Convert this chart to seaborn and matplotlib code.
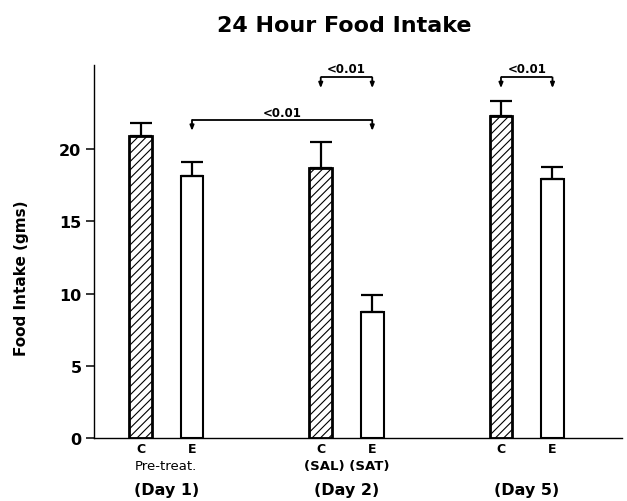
import numpy as np
import pandas as pd
import matplotlib
matplotlib.use("Agg")
import matplotlib.pyplot as plt
import seaborn as sns

# --- data -------------------------------------------------------------
days = ["(Day 1)", "(Day 2)", "(Day 5)"]
day_notes = ["Pre-treat.", "(SAL) (SAT)", ""]
groups = ["C", "E", "C", "E", "C", "E"]
intake = [20.9, 18.1, 18.7, 8.7, 22.3, 17.9]      # mean 24 h food intake (g)
sem = [0.9, 1.0, 1.75, 1.2, 1.0, 0.85]             # upper error bars
y_ticks = [0, 5, 10, 15, 20]
# significance comparisons: (bar i, bar j, label)
comparisons = [(1, 3, "<0.01"), (2, 3, "<0.01"), (4, 5, "<0.01")]

# --- layout -----------------------------------------------------------
x_pos = [0, 1, 3.5, 4.5, 7, 8]
bracket_y = [22.0, 24.95, 24.95]
bracket_drop = 0.75
label_y = [22.3, 25.3, 25.3]

sns.set_theme(style="ticks", rc={
    "axes.edgecolor": "black", "xtick.color": "black", "ytick.color": "black",
    "text.color": "black", "axes.labelcolor": "black",
})
plt.rcParams["font.family"] = ["DejaVu Sans"]
plt.rcParams["hatch.linewidth"] = 0.8
plt.rcParams["hatch.color"] = "black"

fig = plt.figure(figsize=(6.27, 5.02), dpi=100)
ax = fig.add_axes([94 / 627, 62.7 / 502, 528 / 627, 373.3 / 502])

df = pd.DataFrame({"x": x_pos, "intake": intake, "group": groups})
sns.barplot(data=df, x="x", y="intake", native_scale=True, width=0.44,
            color="white", saturation=1, edgecolor="black", linewidth=1.5,
            errorbar=None, ax=ax, zorder=2)

# hatch the control bars and give them a heavier outline
for patch, g in zip(ax.patches, groups):
    patch.set_facecolor("white")
    if g == "C":
        patch.set_hatch("////")
        patch.set_linewidth(2.0)

# one-sided (upper) error bars
ax.errorbar(x_pos, intake, yerr=[np.zeros(len(sem)), sem], fmt="none",
            ecolor="black", elinewidth=1.6, capsize=8, capthick=1.6, zorder=3)

# axes styling
sns.despine(ax=ax)
ax.spines["left"].set_linewidth(1.0)
ax.spines["bottom"].set_linewidth(1.0)
ax.set_xlim(-0.903, 9.35)
ax.set_ylim(0, 25.8)
ax.set_yticks(y_ticks)
ax.set_yticklabels([str(t) for t in y_ticks], fontsize=11.5, fontweight="bold")
ax.tick_params(axis="y", length=6, width=1.1, pad=3)
ax.set_xticks(x_pos)
ax.set_xticklabels(groups, fontsize=9, fontweight="bold")
ax.tick_params(axis="x", length=0, pad=3)
ax.set_xlabel("")
ax.set_ylabel("")

# day labels under each pair
trans = ax.get_xaxis_transform()
for k, (day, note) in enumerate(zip(days, day_notes)):
    cx = (x_pos[2 * k] + x_pos[2 * k + 1]) / 2
    if note:
        ax.text(cx, -0.073, note, transform=trans, ha="center", va="center",
                fontsize=9.5, fontweight="bold" if "(" in note else "normal")
    ax.text(cx, -0.136, day, transform=trans, ha="center", va="center",
            fontsize=11.5, fontweight="bold")

# significance brackets
for (i, j, txt), by, ty in zip(comparisons, bracket_y, label_y):
    x1, x2 = x_pos[i], x_pos[j]
    ax.plot([x1, x2], [by, by], color="black", lw=1.3, solid_capstyle="butt",
            zorder=4, clip_on=False)
    for xe in (x1, x2):
        ax.annotate("", xy=(xe, by - bracket_drop), xytext=(xe, by),
                    arrowprops=dict(arrowstyle="-|>,head_length=0.25,head_width=0.1",
                                    color="black", lw=1.3, shrinkA=0, shrinkB=0))
    ax.text((x1 + x2) / 2, ty, txt, ha="center", va="baseline",
            fontsize=8.5, fontweight="bold")

fig.text(344 / 627, 1 - 31.7 / 502, "24 Hour Food Intake", ha="center",
         va="baseline", fontsize=16, fontweight="bold")
fig.text(22 / 627, 1 - 278.5 / 502, "Food Intake (gms)", rotation=90,
         ha="center", va="center", fontsize=11, fontweight="bold")

fig.savefig("out.png", dpi=100)
